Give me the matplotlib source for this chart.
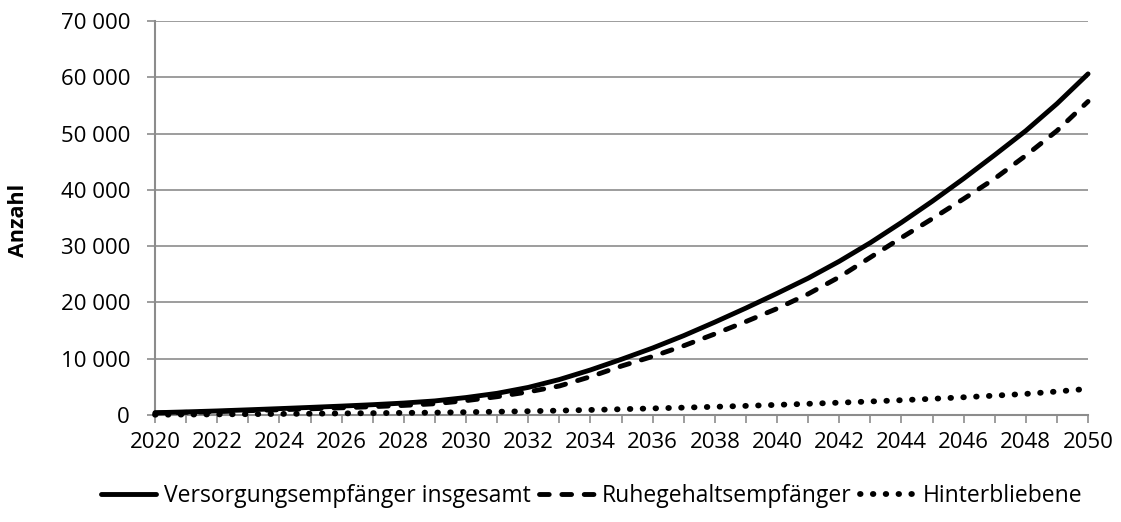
import matplotlib
matplotlib.use("Agg")
import matplotlib.pyplot as plt
from matplotlib.ticker import FuncFormatter, MultipleLocator

plt.rcParams['font.family'] = ['Open Sans', 'DejaVu Sans']

years = list(range(2020, 2051))
total = [400, 550, 720, 920, 1130, 1350, 1580, 1830, 2120, 2500,
         3100, 3850, 4900, 6300, 8000, 9900, 11900, 14100, 16500, 19000,
         21600, 24300, 27300, 30600, 34200, 38000, 42000, 46200, 50500, 55300,
         60600]
ruhe = [350, 470, 600, 760, 930, 1100, 1280, 1480, 1700, 2000,
        2550, 3250, 4100, 5150, 6800, 8700, 10400, 12300, 14400, 16600,
        18900, 21500, 24500, 28000, 31500, 34900, 38400, 42000, 46100, 50500,
        55700]
hinter = [50, 80, 110, 150, 190, 230, 280, 330, 380, 420,
          500, 580, 670, 780, 900, 1030, 1170, 1310, 1460, 1620,
          1800, 1990, 2190, 2400, 2630, 2880, 3150, 3440, 3750, 4170,
          4650]
labels = ["Versorgungsempfänger insgesamt", "Ruhegehaltsempfänger", "Hinterbliebene"]

fig = plt.figure(figsize=(11.21, 5.22), dpi=100)
ax = fig.add_axes([0.1383, 0.205, 0.8323, 0.7548])

lw = 3.5
ax.plot(years, total, color='black', lw=lw, solid_capstyle='round', clip_on=False, label=labels[0], zorder=3)
ax.plot(years, ruhe, color='black', lw=lw, linestyle=(0, (2, 2.6)), dash_capstyle='round',
        clip_on=False, label=labels[1], zorder=3)
ax.plot(years, hinter, color='black', lw=4.2, linestyle=(0, (0.1, 2.1)), dash_capstyle='round',
        clip_on=False, label=labels[2], zorder=3)

ax.set_xlim(2020, 2050)
ax.set_ylim(0, 70000)
ax.xaxis.set_major_locator(MultipleLocator(2))
ax.xaxis.set_minor_locator(MultipleLocator(1))
ax.yaxis.set_major_locator(MultipleLocator(10000))
ax.yaxis.set_major_formatter(FuncFormatter(lambda v, p: f"{v:,.0f}".replace(",", " ")))

ax.grid(axis='y', color='#8c8c8c', lw=1.2)
ax.set_axisbelow(True)
for s in ['top', 'right']:
    ax.spines[s].set_visible(False)
for s in ['left', 'bottom']:
    ax.spines[s].set_color('#8c8c8c')
    ax.spines[s].set_linewidth(1.5)
ax.tick_params(axis='both', which='both', direction='out', color='#8c8c8c', width=1.2,
               length=6, labelsize=16, labelcolor='black')
ax.tick_params(axis='x', which='major', pad=6)
ax.tick_params(axis='y', which='major', pad=12)
ax.tick_params(axis='x', which='minor', length=6)

ax.set_ylabel("Anzahl", fontsize=15.5, fontweight='bold')
ax.yaxis.set_label_coords(-0.135, 0.495)

fig.legend(loc='center', bbox_to_anchor=(0.528, 0.05), ncol=3, frameon=False, fontsize=16.5,
           handlelength=2.4, handletextpad=0.35, columnspacing=0.35)

fig.savefig("out.png", dpi=100)
